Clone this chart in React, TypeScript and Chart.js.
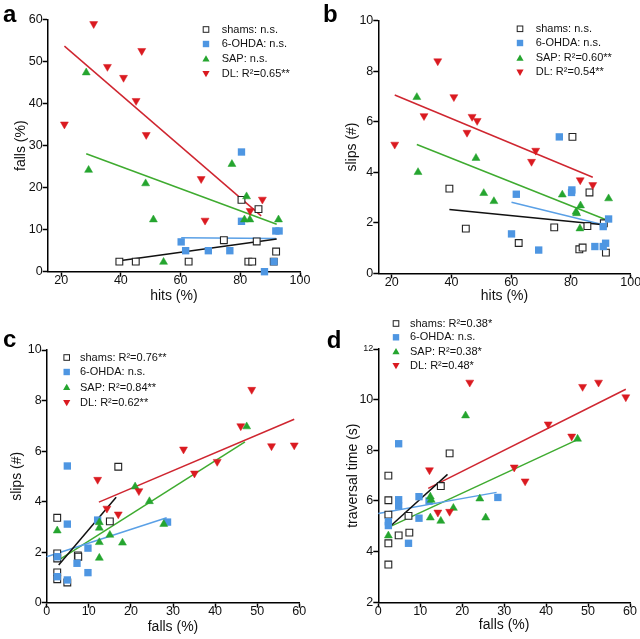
import React, { useEffect, useRef } from 'react';
import { Chart, registerables } from 'chart.js';

Chart.register(...registerables);

const FONT = "'Liberation Sans', Arial, Helvetica, sans-serif";

type Pt = [number, number];

// ---------- Panel a: hits (%) vs falls (%) ----------
const A_SHAMS: Pt[] = [[39.5, 2.4], [45, 2.4], [62.7, 2.4], [74.5, 7.5], [85.5, 7.2], [82.7, 2.4], [84, 2.4], [80.4, 17.1], [86.1, 14.9], [92, 4.8], [91.2, 2.4]];
const A_OHDA: Pt[] = [[60.2, 7.1], [61.7, 5.0], [69.3, 5.0], [76.5, 5.0], [80.4, 12.0], [80.4, 28.5], [91.9, 9.7], [93, 9.7], [88.1, 0], [91.3, 2.4]];
const A_SAP: Pt[] = [[28.4, 47.4], [29.2, 24.2], [48.3, 21.0], [50.9, 12.4], [54.3, 2.3], [77.2, 25.6], [82.1, 17.9], [81.4, 12.4], [83.2, 12.4], [92.8, 12.4]];
const A_DL: Pt[] = [[21.1, 35.1], [30.9, 59.0], [35.5, 48.8], [40.9, 46.2], [45.1, 40.7], [47.0, 52.6], [48.5, 32.6], [66.9, 22.1], [68.2, 12.2], [83.3, 14.5], [87.4, 17.2]];
const A_FIT_SHAMS: Pt[] = [[39.5, 2.6], [92.2, 7.8]];
const A_FIT_OHDA: Pt[] = [[60.2, 8.1], [92.0, 7.9]];
const A_FIT_SAP: Pt[] = [[28.4, 28.1], [92.2, 11.3]];
const A_FIT_DL: Pt[] = [[21.1, 53.7], [87.0, 13.3]];
const A_LABELS = ['shams: n.s.', '6-OHDA: n.s.', 'SAP: n.s.', 'DL: R²=0.65**'];
const A_XTICKS = [20, 40, 60, 80, 100];
const A_YTICKS = [0, 10, 20, 30, 40, 50, 60];

// ---------- Panel b: hits (%) vs slips (#) ----------
const B_SHAMS: Pt[] = [[39.3, 3.35], [44.8, 1.77], [62.5, 1.2], [74.4, 1.82], [80.5, 5.4], [86.2, 3.2], [85.5, 1.87], [82.8, 0.95], [83.9, 1.02], [91.7, 0.82], [91, 1.98]];
const B_OHDA: Pt[] = [[60.1, 1.56], [61.7, 3.13], [69.2, 0.92], [76.1, 5.4], [80.2, 3.2], [80.3, 3.3], [88, 1.06], [90.8, 1.06], [91.6, 1.19], [90.8, 1.85], [92.6, 2.15]];
const B_SAP: Pt[] = [[28.4, 6.97], [28.8, 4.0], [48.2, 4.56], [50.8, 3.17], [54.2, 2.85], [77.1, 3.11], [81.7, 2.43], [81.9, 2.37], [83.2, 2.68], [83.0, 1.77], [92.6, 2.96]];
const B_DL: Pt[] = [[21.0, 5.1], [30.8, 6.23], [35.4, 8.4], [40.8, 6.98], [45.2, 5.57], [46.9, 6.2], [48.6, 6.04], [66.8, 4.42], [68.2, 4.86], [83.1, 3.69], [87.3, 3.5]];
const B_FIT_SHAMS: Pt[] = [[39.3, 2.53], [91.8, 1.91]];
const B_FIT_OHDA: Pt[] = [[60.1, 2.81], [91.8, 1.89]];
const B_FIT_SAP: Pt[] = [[28.4, 5.1], [92.6, 2.08]];
const B_FIT_DL: Pt[] = [[21.0, 7.06], [87.3, 3.8]];
const B_LABELS = ['shams: n.s.', '6-OHDA: n.s.', 'SAP: R²=0.60**', 'DL: R²=0.54**'];
const B_XTICKS = [20, 40, 60, 80, 100];
const B_YTICKS = [0, 2, 4, 6, 8, 10];

// ---------- Panel c: falls (%) vs slips (#) ----------
const C_SHAMS: Pt[] = [[2.5, 3.36], [2.5, 1.95], [2.5, 1.75], [2.5, 1.2], [2.5, 0.93], [4.9, 0.8], [7.4, 1.87], [7.5, 1.82], [15.0, 3.22], [17.0, 5.38]];
const C_OHDA: Pt[] = [[2.5, 1.82], [2.5, 1.03], [4.9, 5.41], [4.9, 3.11], [4.9, 0.9], [7.2, 1.56], [9.8, 2.16], [9.8, 1.19], [12.1, 3.27], [28.7, 3.19]];
const C_SAP: Pt[] = [[2.5, 2.85], [12.5, 3.18], [12.5, 2.96], [12.5, 2.39], [12.5, 1.77], [15.0, 2.68], [18.0, 2.37], [21.0, 4.59], [24.4, 4.01], [27.8, 3.11], [47.5, 6.97]];
const C_DL: Pt[] = [[12.1, 4.87], [14.3, 3.73], [17.0, 3.5], [21.9, 4.42], [32.5, 6.07], [35.1, 5.12], [40.5, 5.58], [46.1, 6.99], [48.7, 8.43], [53.4, 6.2], [58.8, 6.23]];
const C_FIT_SHAMS: Pt[] = [[2.85, 1.49], [16.5, 4.17]];
const C_FIT_OHDA: Pt[] = [[0, 1.82], [28.5, 3.36]];
const C_FIT_SAP: Pt[] = [[3.2, 1.72], [47.1, 6.36]];
const C_FIT_DL: Pt[] = [[12.4, 3.98], [58.8, 7.26]];
const C_LABELS = ['shams: R²=0.76**', '6-OHDA: n.s.', 'SAP: R²=0.84**', 'DL: R²=0.62**'];
const C_XTICKS = [0, 10, 20, 30, 40, 50, 60];
const C_YTICKS = [0, 2, 4, 6, 8, 10];

// ---------- Panel d: falls (%) vs traversal time (s) ----------
const D_SHAMS: Pt[] = [[2.4, 7.0], [2.4, 6.03], [2.4, 5.46], [2.4, 4.33], [2.4, 3.49], [4.85, 4.64], [7.2, 5.41], [7.4, 4.75], [14.9, 6.59], [17.0, 7.88]];
const D_OHDA: Pt[] = [[4.85, 8.26], [4.85, 6.05], [4.85, 5.8], [2.4, 5.18], [2.4, 5.03], [7.2, 4.33], [9.7, 6.17], [9.7, 5.32], [12.1, 6.0], [28.5, 6.14]];
const D_SAP: Pt[] = [[2.4, 4.63], [12.4, 6.17], [12.6, 6.04], [12.4, 5.34], [14.9, 5.21], [17.9, 5.72], [20.8, 9.37], [24.2, 6.09], [25.6, 5.34], [47.5, 8.45]];
const D_DL: Pt[] = [[12.2, 7.22], [14.2, 5.55], [17.0, 5.58], [21.8, 10.68], [32.4, 7.33], [35.0, 6.78], [40.5, 9.03], [46.1, 8.55], [48.7, 10.51], [52.5, 10.68], [59.0, 10.1]];
const D_FIT_SHAMS: Pt[] = [[2.8, 4.99], [16.5, 7.05]];
const D_FIT_OHDA: Pt[] = [[0, 5.51], [28.2, 6.34]];
const D_FIT_SAP: Pt[] = [[2.8, 4.99], [47.5, 8.42]];
const D_FIT_DL: Pt[] = [[11.9, 6.5], [59.0, 10.41]];
const D_LABELS = ['shams: R²=0.38*', '6-OHDA: n.s.', 'SAP: R²=0.38*', 'DL: R²=0.48*'];
const D_XTICKS = [0, 10, 20, 30, 40, 50, 60];
const D_YTICKS = [2, 4, 6, 8, 10, 12];

const POINT_COLORS = ['#222222', '#4e96e2', '#25a52f', '#da1a20'];
const LINE_COLORS = ['#111111', '#5aa0e6', '#3fab30', '#cf2630'];

interface PanelDef {
  letter: string; letterX: number; letterY: number;
  chartLeft: number; chartRight: number; chartTop: number; chartBottom: number;
  yTitleX: number; xTitleOffset: number;
  xMin: number; xMax: number; xTicks: number[];
  yMin: number; yMax: number; yTicks: number[];
  xTitle: string; yTitle: string;
  groups: Pt[][]; fits: Pt[][]; labels: string[];
  legendMarkerX: number; legendTextX: number; legendRows: number[];
  smallTopTick?: boolean;
}

const PANELS: PanelDef[] = [
  {
    letter: 'a', letterX: 3, letterY: 21.7,
    chartLeft: 47.7, chartRight: 300, chartTop: 19.7, chartBottom: 271.7,
    yTitleX: 20.8, xTitleOffset: 24,
    xMin: 15.5, xMax: 100, xTicks: A_XTICKS, yMin: 0, yMax: 60, yTicks: A_YTICKS,
    xTitle: 'hits (%)', yTitle: 'falls (%)',
    groups: [A_SHAMS, A_OHDA, A_SAP, A_DL], fits: [A_FIT_SHAMS, A_FIT_OHDA, A_FIT_SAP, A_FIT_DL], labels: A_LABELS,
    legendMarkerX: 206, legendTextX: 221.7, legendRows: [29.5, 44, 59, 73.5],
  },
  {
    letter: 'b', letterX: 323, letterY: 21.7,
    chartLeft: 378.3, chartRight: 630.7, chartTop: 20.7, chartBottom: 273.3,
    yTitleX: 352.6, xTitleOffset: 23,
    xMin: 15.5, xMax: 100, xTicks: B_XTICKS, yMin: 0, yMax: 10, yTicks: B_YTICKS,
    xTitle: 'hits (%)', yTitle: 'slips (#)',
    groups: [B_SHAMS, B_OHDA, B_SAP, B_DL], fits: [B_FIT_SHAMS, B_FIT_OHDA, B_FIT_SAP, B_FIT_DL], labels: B_LABELS,
    legendMarkerX: 520, legendTextX: 535.7, legendRows: [28.8, 43, 58.2, 72.2],
  },
  {
    letter: 'c', letterX: 3, letterY: 346.7,
    chartLeft: 46.7, chartRight: 299.3, chartTop: 350, chartBottom: 602.7,
    yTitleX: 17, xTitleOffset: 24.5,
    xMin: 0, xMax: 60, xTicks: C_XTICKS, yMin: 0, yMax: 10, yTicks: C_YTICKS,
    xTitle: 'falls (%)', yTitle: 'slips (#)',
    groups: [C_SHAMS, C_OHDA, C_SAP, C_DL], fits: [C_FIT_SHAMS, C_FIT_OHDA, C_FIT_SAP, C_FIT_DL], labels: C_LABELS,
    legendMarkerX: 66.7, legendTextX: 80, legendRows: [357.5, 372, 387.5, 402.5],
  },
  {
    letter: 'd', letterX: 326.7, letterY: 348,
    chartLeft: 378.3, chartRight: 630, chartTop: 349, chartBottom: 602.3,
    yTitleX: 353.3, xTitleOffset: 22.5,
    xMin: 0, xMax: 60, xTicks: D_XTICKS, yMin: 2, yMax: 12, yTicks: D_YTICKS,
    xTitle: 'falls (%)', yTitle: 'traversal time (s)',
    groups: [D_SHAMS, D_OHDA, D_SAP, D_DL], fits: [D_FIT_SHAMS, D_FIT_OHDA, D_FIT_SAP, D_FIT_DL], labels: D_LABELS,
    legendMarkerX: 396, legendTextX: 410, legendRows: [323.5, 337.3, 351.7, 365.5],
    smallTopTick: true,
  },
];

function drawMarker(ctx: CanvasRenderingContext2D, kind: number, x: number, y: number) {
  ctx.save();
  if (kind === 0) {
    ctx.strokeStyle = POINT_COLORS[0];
    ctx.lineWidth = 1;
    ctx.fillStyle = '#fff';
    ctx.fillRect(x - 2.8, y - 2.8, 5.6, 5.6);
    ctx.strokeRect(x - 2.8, y - 2.8, 5.6, 5.6);
  } else if (kind === 1) {
    ctx.fillStyle = POINT_COLORS[1];
    ctx.fillRect(x - 3.2, y - 3.2, 6.4, 6.4);
  } else if (kind === 2) {
    ctx.fillStyle = POINT_COLORS[2];
    ctx.beginPath();
    ctx.moveTo(x, y - 3.8);
    ctx.lineTo(x + 3.6, y + 2.6);
    ctx.lineTo(x - 3.6, y + 2.6);
    ctx.closePath();
    ctx.fill();
  } else {
    ctx.fillStyle = POINT_COLORS[3];
    ctx.beginPath();
    ctx.moveTo(x, y + 3.8);
    ctx.lineTo(x + 3.6, y - 2.6);
    ctx.lineTo(x - 3.6, y - 2.6);
    ctx.closePath();
    ctx.fill();
  }
  ctx.restore();
}

const decoPlugin = {
  id: 'panelDeco',
  afterDraw(chart: any, _args: any, opts: any) {
    const ctx: CanvasRenderingContext2D = chart.ctx;
    ctx.save();
    ctx.fillStyle = '#000';
    ctx.textAlign = 'left';
    ctx.textBaseline = 'alphabetic';
    ctx.font = `bold 24px ${FONT}`;
    ctx.fillText(opts.letter, opts.letterX, opts.letterY);
    ctx.font = `11px ${FONT}`;
    ctx.textBaseline = 'middle';
    (opts.labels as string[]).forEach((lab, i) => {
      const y = opts.rows[i];
      drawMarker(ctx, i, opts.markerX, y);
      ctx.fillStyle = '#111';
      ctx.fillText(lab, opts.textX, y);
    });
    ctx.restore();
  },
};

function buildConfig(p: PanelDef): any {
  const lh = 14 * 1.2;
  const padLeft = p.yTitleX - lh / 2;
  const wy = p.chartLeft - padLeft;
  const hx = p.xTitleOffset + lh / 2;
  const padBottom = 639 - p.chartBottom - hx;
  const toXY = (arr: Pt[]) => arr.map(([x, y]) => ({ x, y }));

  const pointStyles = [
    { pointStyle: 'rect', pointRadius: 4.8, backgroundColor: '#ffffff', borderColor: POINT_COLORS[0], borderWidth: 1.1, order: 4 },
    { pointStyle: 'rect', pointRadius: 5.2, backgroundColor: POINT_COLORS[1], borderColor: POINT_COLORS[1], borderWidth: 0, order: 3 },
    { pointStyle: 'triangle', pointRadius: 4.6, backgroundColor: POINT_COLORS[2], borderColor: POINT_COLORS[2], borderWidth: 0.5, order: 2 },
    { pointStyle: 'triangle', pointRotation: 180, pointRadius: 4.6, backgroundColor: POINT_COLORS[3], borderColor: POINT_COLORS[3], borderWidth: 0.5, order: 1 },
  ];

  const pointSets = p.groups.map((g, i) => ({
    label: p.labels[i],
    data: toXY(g),
    showLine: false,
    clip: false,
    pointHoverRadius: pointStyles[i].pointRadius,
    ...pointStyles[i],
  }));
  const lineSets = p.fits.map((f, i) => ({
    label: 'fit ' + i,
    data: toXY(f),
    showLine: true,
    pointRadius: 0,
    pointHoverRadius: 0,
    borderColor: LINE_COLORS[i],
    backgroundColor: LINE_COLORS[i],
    borderWidth: 1.5,
    fill: false,
    clip: false,
    order: 10,
  }));

  const tickFont = { family: FONT, size: 12.5, lineHeight: 1 };
  const yTickFont = p.smallTopTick
    ? (c: any) => ({ family: FONT, size: c.tick && c.tick.value === p.yMax ? 9 : 12.5, lineHeight: 1 })
    : tickFont;

  return {
    type: 'scatter',
    data: { datasets: [...pointSets, ...lineSets] },
    options: {
      responsive: false,
      animation: false,
      devicePixelRatio: 1,
      events: [],
      layout: {
        padding: { left: padLeft, right: 640 - p.chartRight, top: p.chartTop, bottom: padBottom },
      },
      plugins: {
        legend: { display: false },
        tooltip: { enabled: false },
        panelDeco: {
          letter: p.letter, letterX: p.letterX, letterY: p.letterY,
          labels: p.labels, markerX: p.legendMarkerX, textX: p.legendTextX, rows: p.legendRows,
        },
      },
      scales: {
        x: {
          type: 'linear',
          position: 'bottom',
          min: p.xMin,
          max: p.xMax,
          afterBuildTicks: (s: any) => { s.ticks = p.xTicks.map((v) => ({ value: v })); },
          afterFit: (s: any) => { s.height = hx; },
          ticks: { autoSkip: false, maxRotation: 0, padding: -2, color: '#111', font: tickFont },
          grid: { display: true, drawOnChartArea: false, drawTicks: true, tickLength: 5, tickWidth: 1.5, tickColor: '#000' },
          border: { display: true, color: '#000', width: 1.5 },
          title: { display: true, text: p.xTitle, color: '#111', padding: 0, font: { family: FONT, size: 14, lineHeight: 1.2 } },
        },
        y: {
          type: 'linear',
          position: 'left',
          min: p.yMin,
          max: p.yMax,
          afterBuildTicks: (s: any) => { s.ticks = p.yTicks.map((v) => ({ value: v })); },
          afterFit: (s: any) => { s.width = wy; },
          ticks: { autoSkip: false, padding: 0, color: '#111', font: yTickFont },
          grid: { display: true, drawOnChartArea: false, drawTicks: true, tickLength: 5, tickWidth: 1.5, tickColor: '#000' },
          border: { display: true, color: '#000', width: 1.5 },
          title: { display: true, text: p.yTitle, color: '#111', padding: 0, font: { family: FONT, size: 14, lineHeight: 1.2 } },
        },
      },
    },
    plugins: [decoPlugin],
  };
}

function PanelCanvas({ panel }: { panel: PanelDef }) {
  const ref = useRef<HTMLCanvasElement | null>(null);
  useEffect(() => {
    if (!ref.current) return;
    const chart = new Chart(ref.current, buildConfig(panel));
    return () => chart.destroy();
  }, [panel]);
  return (
    <canvas
      ref={ref}
      width={640}
      height={639}
      style={{ position: 'absolute', left: 0, top: 0, width: 640, height: 639 }}
    />
  );
}

export default function App() {
  return (
    <div style={{ position: 'fixed', left: 0, top: 0, width: 640, height: 639, background: '#ffffff', overflow: 'hidden' }}>
      {PANELS.map((p) => (
        <PanelCanvas key={p.letter} panel={p} />
      ))}
    </div>
  );
}
